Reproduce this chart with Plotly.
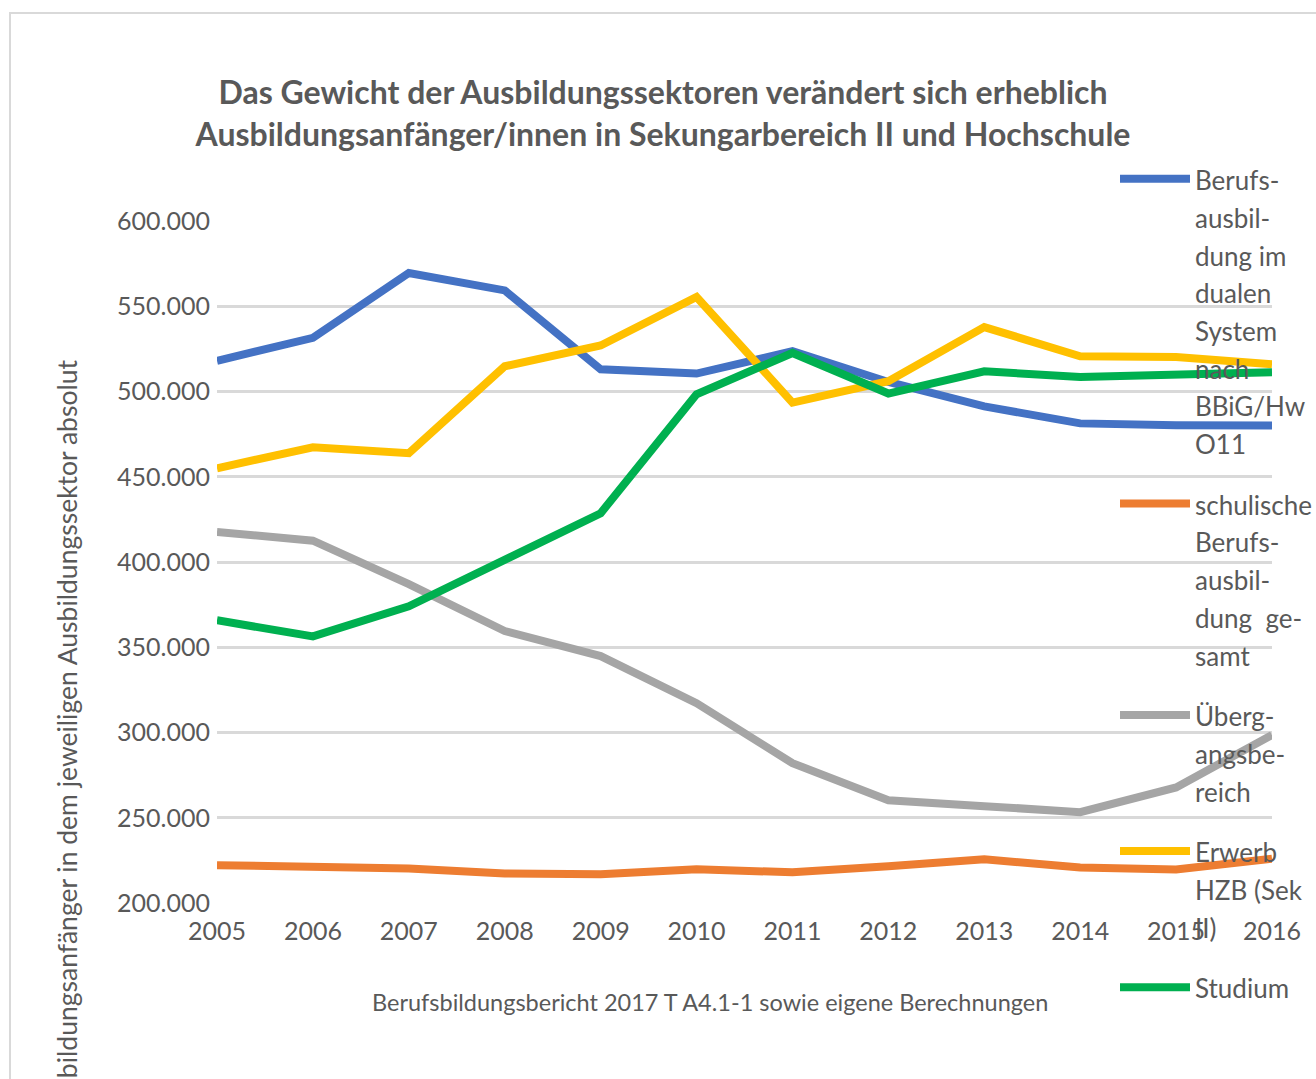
import plotly.graph_objects as go

years = [2005, 2006, 2007, 2008, 2009, 2010, 2011, 2012, 2013, 2014, 2015, 2016]
dual = [518000, 531500, 569500, 559300, 513000, 510500, 523600, 505600, 491300, 481300, 480200, 480000]
schulisch = [222200, 220800, 220200, 217300, 216900, 219800, 218000, 221600, 225600, 220800, 219600, 226000]
uebergang = [417600, 412500, 387000, 359500, 344800, 317200, 282000, 260300, 256800, 253300, 267800, 298500]
hzb = [455000, 467300, 463800, 514800, 527000, 555400, 493500, 506000, 537800, 520700, 520200, 516000]
studium = [365800, 356400, 374000, 401000, 428600, 498400, 522600, 498800, 511800, 508500, 509400, 511300]

name_lines = [
    ["Berufs-", "ausbil-", "dung im", "dualen", "System", "nach", "BBiG/Hw", "O11"],
    ["schulische", "Berufs-", "ausbil-", "dung  ge-", "samt"],
    ["Überg-", "angsbe-", "reich"],
    ["Erwerb", "HZB (Sek", "II)"],
    ["Studium"],
]
series = [dual, schulisch, uebergang, hzb, studium]
colors = ["#4472C4", "#ED7D31", "#A5A5A5", "#FFC000", "#00B050"]

title_text = ("Das Gewicht der Ausbildungssektoren verändert sich erheblich<br>"
              "Ausbildungsanfänger/innen in Sekungarbereich II und Hochschule")
ytitle = "Ausbildungsanfänger in dem jeweiligen Ausbildungssektor absolut"
xtitle = "Berufsbildungsbericht 2017 T A4.1-1 sowie eigene Berechnungen"

FONT = "Lato, Roboto, Liberation Sans, sans-serif"
TXT = "#595959"

# figure slightly wider than the window so the legend never forces the margins
W, H = 1330, 1079
L, R, T, B = 217, 58, 221, 176
PW, PH = W - L - R, H - T - B


def legend_name(lines):
    # narrower glyphs while keeping the legend's line pitch
    return "<br>".join(f"<span style='font-size:26px'>{ln}</span>" for ln in lines)


fig = go.Figure()
for i, (lines, vals, col) in enumerate(zip(name_lines, series, colors)):
    fig.add_trace(go.Scatter(
        x=years, y=vals, name=legend_name(lines), mode="lines",
        line=dict(color=col, width=8),
        legendgroup=f"g{i}",
    ))

fig.update_layout(
    width=W, height=H,
    paper_bgcolor="white", plot_bgcolor="white",
    margin=dict(l=L, r=R, t=T, b=B),
    separators=",.",
    font=dict(family=FONT, color=TXT, size=27),
    title=dict(text=title_text, x=663 / W, xanchor="center", xref="container",
               y=0.9032, yanchor="middle", yref="container",
               font=dict(family=FONT, size=32, color=TXT, weight="bold")),
    showlegend=True,
    legend=dict(x=(1115 - L) / PW, y=1.099, xref="paper", yref="paper",
                xanchor="left", yanchor="top", maxheight=1000,
                bgcolor="rgba(0,0,0,0)", font=dict(family=FONT, size=29, color=TXT),
                valign="top", tracegroupgap=20, itemwidth=70,
                traceorder="grouped"),
    xaxis=dict(range=[2005, 2016], tickvals=years, ticktext=[str(y) for y in years],
               showgrid=False, zeroline=False, showline=False,
               ticks="outside", ticklen=6, tickcolor="rgba(0,0,0,0)",
               tickfont=dict(family=FONT, size=25, color=TXT)),
    yaxis=dict(range=[200000, 600000], dtick=50000, tickformat=",.0f",
               showgrid=True, gridcolor="#D9D9D9", gridwidth=2.5,
               zeroline=False, showline=False,
               ticks="outside", ticklen=1, tickcolor="rgba(0,0,0,0)",
               tickfont=dict(family=FONT, size=25, color=TXT)),
    annotations=[
        dict(text=ytitle, textangle=-90, xref="paper", yref="paper",
             x=(67 - L) / PW, y=(903 - 358) / PH, xanchor="center", yanchor="top",
             showarrow=False, font=dict(family=FONT, size=26.5, color=TXT)),
        dict(text=xtitle, xref="paper", yref="paper",
             x=(710 - L) / PW, y=(903 - 1002) / PH, xanchor="center", yanchor="middle",
             showarrow=False, font=dict(family=FONT, size=23.5, color=TXT)),
    ],
    shapes=[
        dict(type="rect", xref="paper", yref="paper",
             x0=(10 - L) / PW, x1=1.2, y0=-0.5, y1=(903 - 13) / PH,
             line=dict(color="#D9D9D9", width=2), fillcolor="rgba(0,0,0,0)", layer="below"),
    ],
)

fig.write_html("out.html",
               config={"displayModeBar": False},
               post_script="document.body.style.margin='0px';document.body.style.overflow='hidden';")
